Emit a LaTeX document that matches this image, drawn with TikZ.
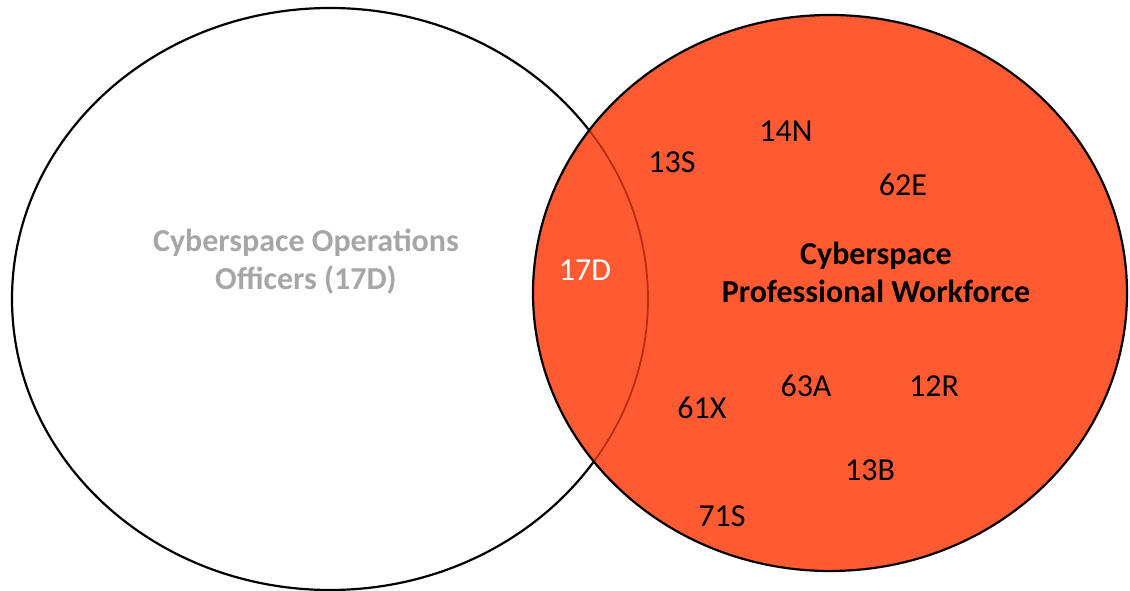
\documentclass[tikz,border=0pt]{standalone}
\usepackage{fontspec}
\setmainfont{Carlito}
\definecolor{venn}{RGB}{255,91,51}
\definecolor{overline}{RGB}{185,45,15}
\definecolor{graytxt}{RGB}{166,166,166}
\begin{document}
\begin{tikzpicture}[x=1pt,y=-1pt,
  lbl/.style={font=\fontsize{32}{38}\selectfont, inner sep=0pt, anchor=center},
  title/.style={lbl, font=\fontsize{32}{38}\selectfont\bfseries, align=center}]
\useasboundingbox (0,0) rectangle (1130,591);
\coordinate (lc) at (330,299);
\coordinate (rc) at (830,293);
\draw[line width=2.2pt] (lc) ellipse [x radius=318pt, y radius=291pt];
\fill[venn] (rc) ellipse [x radius=297pt, y radius=278pt];
\begin{scope}
  \clip (rc) ellipse [x radius=297pt, y radius=278pt];
  \draw[overline, line width=1.8pt] (lc) ellipse [x radius=318pt, y radius=291pt];
\end{scope}
\draw[line width=2.2pt] (rc) ellipse [x radius=297pt, y radius=278pt];
\node[title, text=graytxt] (ops) at (306,262) {Cyberspace Operations\\Officers (17D)};
\node[title] (work) at (876,272) {Cyberspace\\Professional Workforce};
\node[lbl, text=white] (d17) at (585,270) {17D};
\node[lbl] (s13) at (672,162) {13S};
\node[lbl] (n14) at (786,131) {14N};
\node[lbl] (e62) at (903,185) {62E};
\node[lbl] (x61) at (702,408) {61X};
\node[lbl] (a63) at (806,386) {63A};
\node[lbl] (r12) at (934,386) {12R};
\node[lbl] (b13) at (870,470) {13B};
\node[lbl] (s71) at (722,516) {71S};
\end{tikzpicture}
\end{document}
